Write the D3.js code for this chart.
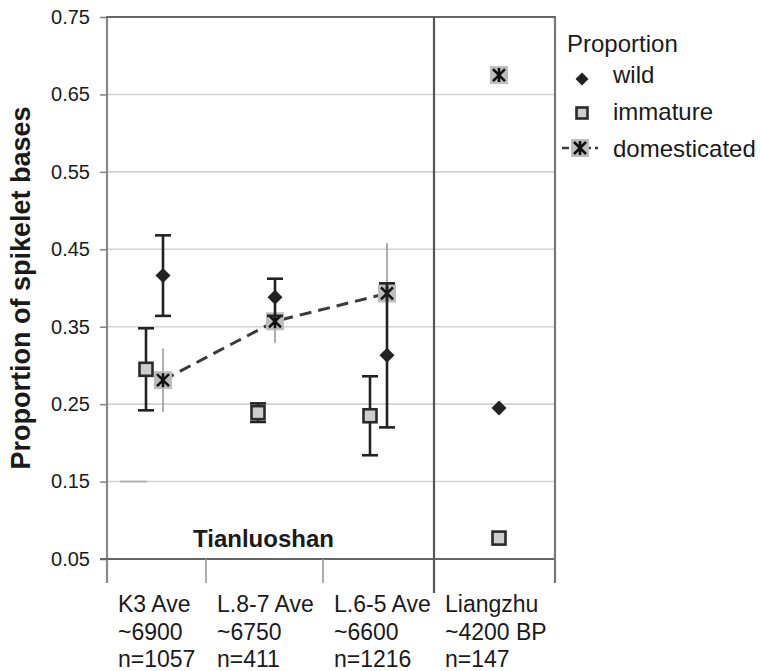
<!DOCTYPE html>
<html>
<head>
<meta charset="utf-8">
<script src="https://cdn.jsdelivr.net/npm/d3@7"></script>
<style>
  html, body { margin: 0; padding: 0; background: #fff; }
  svg { display: block; }
  text { font-family: "Liberation Sans", Arial, Helvetica, sans-serif; fill: #1a1a1a; }
</style>
</head>
<body>
<svg id="chart" width="760" height="671"></svg>
<script>
// Sites / layers (x categories), three lines of label each
const categories = ["K3", "L8-7", "L6-5", "Liangzhu"];
const labelLines = [
  ["K3 Ave", "~6900", "n=1057"],
  ["L.8-7 Ave", "~6750", "n=411"],
  ["L.6-5 Ave", "~6600", "n=1216"],
  ["Liangzhu", "~4200 BP", "n=147"]
];

// Proportions of spikelet bases and their error margins (null = no bar)
const wild = [0.416, 0.388, 0.313, 0.245];
const wildErr = [0.052, 0.024, 0.093, null];
const immature = [0.295, 0.239, 0.235, 0.077];
const immatureErr = [0.053, 0.012, 0.051, null];
const domesticated = [0.281, 0.357, 0.393, 0.675];
const domesticatedErr = [0.041, 0.028, 0.065, null];

const yTicks = [0.05, 0.15, 0.25, 0.35, 0.45, 0.55, 0.65, 0.75];
const legendItems = ["wild", "immature", "domesticated"];

// Layout
const plotLeft = 107, plotRight = 555, plotTop = 17, plotBottom = 559;
const dividerX = 434;
const tickXs = [107, 206, 323, 434, 555];

const svg = d3.select("#chart");

const x = d3.scaleBand().domain(categories).range([plotLeft, plotRight]);
const cx = c => x(c) + x.bandwidth() / 2;
const y = d3.scaleLinear().domain([0.05, 0.75]).range([plotBottom, plotTop]);

// Horizontal gridlines
svg.append("g").selectAll("line")
  .data(yTicks.filter(t => t > 0.05 && t < 0.75))
  .join("line")
  .attr("x1", plotLeft).attr("x2", plotRight)
  .attr("y1", d => y(d)).attr("y2", d => y(d))
  .attr("stroke", "#d2d2d2").attr("stroke-width", 1.6);
// short darker stroke on the 0.15 gridline
svg.append("line")
  .attr("x1", plotLeft + 13).attr("x2", plotLeft + 40)
  .attr("y1", y(0.15)).attr("y2", y(0.15))
  .attr("stroke", "#b0b0b0").attr("stroke-width", 1.8);

// Y axis
const yAxis = svg.append("g")
  .attr("transform", `translate(${plotLeft},0)`)
  .call(d3.axisLeft(y).tickValues(yTicks).tickFormat(d3.format(".2f")).tickSize(7).tickPadding(10));
yAxis.select(".domain").remove();
yAxis.selectAll(".tick line").attr("stroke", "#888").attr("stroke-width", 1.6);
yAxis.selectAll(".tick text")
  .style("font-size", "20px").style("font-family", "'Liberation Sans', Arial, sans-serif")
  .attr("fill", "#1a1a1a");

// Frame
const frame = svg.append("g").attr("stroke-linecap", "butt");
frame.append("line").attr("x1", plotLeft).attr("x2", plotLeft).attr("y1", plotTop).attr("y2", 583)
  .attr("stroke", "#888").attr("stroke-width", 2.2);
frame.append("line").attr("x1", plotLeft - 1).attr("x2", plotRight + 1).attr("y1", plotTop).attr("y2", plotTop)
  .attr("stroke", "#666").attr("stroke-width", 2.2);
frame.append("line").attr("x1", plotLeft - 7).attr("x2", plotRight + 1).attr("y1", plotBottom).attr("y2", plotBottom)
  .attr("stroke", "#666").attr("stroke-width", 2.2);
frame.append("line").attr("x1", plotRight).attr("x2", plotRight).attr("y1", plotTop).attr("y2", 583)
  .attr("stroke", "#777").attr("stroke-width", 2.2);
frame.append("line").attr("x1", dividerX).attr("x2", dividerX).attr("y1", plotTop).attr("y2", 593)
  .attr("stroke", "#555").attr("stroke-width", 2.2);
// Category separator ticks below the axis
frame.selectAll(".xtick")
  .data([tickXs[1], tickXs[2]])
  .join("line")
  .attr("class", "xtick")
  .attr("x1", d => d).attr("x2", d => d)
  .attr("y1", plotBottom).attr("y2", 583)
  .attr("stroke", "#999").attr("stroke-width", 1.6);

// Y axis title
svg.append("text")
  .attr("transform", `translate(30,288) rotate(-90)`)
  .attr("text-anchor", "middle")
  .style("font-size", "27px").style("font-weight", "bold")
  .text("Proportion of spikelet bases");

// Group label
svg.append("text")
  .attr("x", (plotLeft + dividerX) / 2 - 7).attr("y", 547)
  .attr("text-anchor", "middle")
  .style("font-size", "24px").style("font-weight", "bold")
  .text("Tianluoshan");

// X category labels
const xl = svg.append("g");
categories.forEach((c, i) => {
  const t = xl.append("text")
    .attr("x", tickXs[i] + 11).attr("y", 612)
    .style("font-size", "23px");
  labelLines[i].forEach((line, j) => {
    t.append("tspan").attr("x", tickXs[i] + 11).attr("dy", j === 0 ? 0 : 27.5).text(line);
  });
});

// Marker helpers
const asteriskPath = s => `M${-s},${-s}L${s},${s}M${-s},${s}L${s},${-s}M0,${-s - 1}L0,${s + 1}`;
function drawDomesticated(g, px, py) {
  g.append("rect").attr("x", px - 9).attr("y", py - 9).attr("width", 18).attr("height", 18)
    .attr("fill", "#bdbdbd");
  g.append("path").attr("d", asteriskPath(6)).attr("transform", `translate(${px},${py})`)
    .attr("stroke", "#111").attr("stroke-width", 2.6).attr("fill", "none");
}
function drawWild(g, px, py, r) {
  g.append("path").attr("d", `M0,${-r}L${r},0L0,${r}L${-r},0Z`)
    .attr("transform", `translate(${px},${py})`).attr("fill", "#222");
}
function drawImmature(g, px, py, s) {
  g.append("rect").attr("x", px - s / 2).attr("y", py - s / 2).attr("width", s).attr("height", s)
    .attr("fill", "#cdcdcd").attr("stroke", "#2a2a2a").attr("stroke-width", 2.6);
}
function errorBar(g, px, v, e, color, width, cap) {
  g.append("line").attr("x1", px).attr("x2", px).attr("y1", y(v - e)).attr("y2", y(v + e))
    .attr("stroke", color).attr("stroke-width", width);
  if (cap) {
    [v - e, v + e].forEach(w => {
      g.append("line").attr("x1", px - cap / 2).attr("x2", px + cap / 2).attr("y1", y(w)).attr("y2", y(w))
        .attr("stroke", color).attr("stroke-width", width);
    });
  }
}

const marks = svg.append("g");
const immatureShift = i => (i < 3 ? -17 : 0);

// Domesticated: gray error bars, dashed trend line across Tianluoshan layers, markers
domesticated.forEach((v, i) => {
  if (domesticatedErr[i] != null) errorBar(marks, cx(categories[i]), v, domesticatedErr[i], "#9a9a9a", 1.6, 0);
});
const trend = d3.line().x((d, i) => cx(categories[i])).y(d => y(d));
marks.append("path")
  .datum(domesticated.slice(0, 3))
  .attr("d", trend)
  .attr("fill", "none").attr("stroke", "#3a3a3a").attr("stroke-width", 3)
  .attr("stroke-dasharray", "12,7");
domesticated.forEach((v, i) => drawDomesticated(marks, cx(categories[i]), y(v)));

// Wild: error bars + diamonds
wild.forEach((v, i) => {
  if (wildErr[i] != null) errorBar(marks, cx(categories[i]), v, wildErr[i], "#222", 2.6, 16);
  drawWild(marks, cx(categories[i]), y(v), 7.5);
});

// Immature: error bars + squares
immature.forEach((v, i) => {
  const px = cx(categories[i]) + immatureShift(i);
  if (immatureErr[i] != null) errorBar(marks, px, v, immatureErr[i], "#222", 2.6, 16);
  drawImmature(marks, px, y(v), 13);
});

// Legend
const lg = svg.append("g");
lg.append("text").attr("x", 567).attr("y", 52).style("font-size", "24px").text("Proportion");
legendItems.forEach((name, i) => {
  const ty = [83, 120, 157][i];
  lg.append("text").attr("x", 613).attr("y", ty).style("font-size", "24px").text(name);
});
drawWild(lg, 582, 79, 6.5);
drawImmature(lg, 582, 113, 11);
lg.append("line").attr("x1", 562).attr("x2", 598).attr("y1", 148).attr("y2", 148)
  .attr("stroke", "#3a3a3a").attr("stroke-width", 2.6).attr("stroke-dasharray", "7,4");
drawDomesticated(lg, 580, 148);
</script>
</body>
</html>
